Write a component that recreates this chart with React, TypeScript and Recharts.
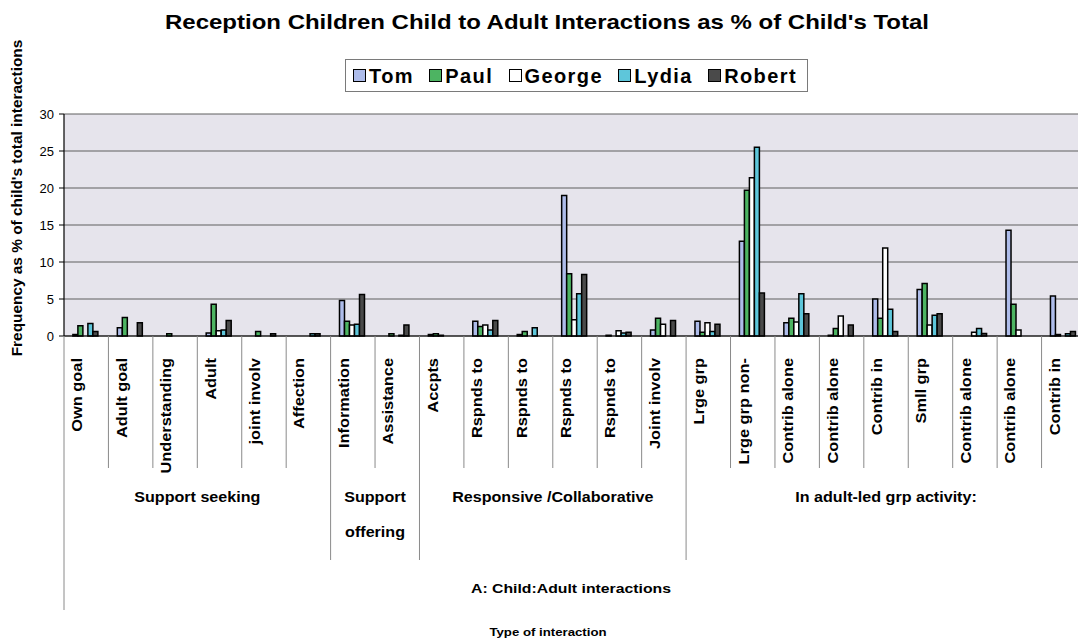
import React from 'react';
import { BarChart, Bar, XAxis, YAxis, CartesianGrid } from 'recharts';

// Interaction types, in axis order
const categories = [
  'Own goal', 'Adult goal', 'Understanding', 'Adult', 'joint involv', 'Affection',
  'Information', 'Assistance',
  'Accpts', 'Rspnds to', 'Rspnds to', 'Rspnds to', 'Rspnds to', 'Joint involv',
  'Lrge grp', 'Lrge grp non-', 'Contrib alone', 'Contrib alone', 'Contrib in', 'Smll grp',
  'Contrib alone', 'Contrib alone', 'Contrib in',
];

// Higher-level grouping of the categories above
const groupNames = ['Support seeking', 'Support\noffering', 'Responsive /Collaborative', 'In adult-led grp activity:'];
const groupSizes = [6, 2, 6, 9];

const seriesNames = ['Tom', 'Paul', 'George', 'Lydia', 'Robert'];
const seriesColors = ['#AEBCEA', '#4DB462', '#FFFFFF', '#5EC6DA', '#4A4A4A'];

// % of each child's total interactions
const tom = [0.2, 1.1, 0, 0.4, 0, 0, 4.8, 0, 0.2, 2.0, 0.2, 19.0, 0.1, 0.8, 2.0, 12.8, 1.8, 0.1, 5.0, 6.3, 0, 14.3, 5.4];
const paul = [1.4, 2.5, 0.3, 4.3, 0.6, 0, 2.0, 0.3, 0.3, 1.3, 0.6, 8.4, 0, 2.4, 0.5, 19.7, 2.4, 1.0, 2.4, 7.1, 0, 4.3, 0.2];
const george = [0, 0, 0, 0.7, 0, 0, 1.5, 0, 0.1, 1.5, 0, 2.2, 0.7, 1.6, 1.8, 21.4, 1.9, 2.7, 11.9, 1.5, 0.5, 0.8, 0];
const lydia = [1.7, 0, 0, 0.8, 0, 0.3, 1.6, 0.1, 0, 0.8, 1.1, 5.7, 0.4, 0, 0.6, 25.5, 5.7, 0, 3.6, 2.8, 1.0, 0, 0.3];
const robert = [0.6, 1.8, 0, 2.1, 0.3, 0.3, 5.6, 1.5, 0, 2.1, 0, 8.3, 0.5, 2.1, 1.6, 5.8, 3.0, 1.5, 0.6, 3.0, 0.35, 0, 0.6];

const yTicks = [0, 5, 10, 15, 20, 25, 30];

const seriesValues = [tom, paul, george, lydia, robert];

const data = categories.map((_, i) => {
  const row: Record<string, number> = { id: i };
  seriesNames.forEach((name, s) => {
    row[name] = seriesValues[s][i];
  });
  return row;
});

const FONT = "'Liberation Sans', Arial, Helvetica, sans-serif";
const CHART_W = 1086;
const CHART_H = 641;
const Y_AXIS_W = 64;
const PLOT_TOP = 114;
const X_AXIS_H = 305;
const BAND = (CHART_W - Y_AXIS_W) / categories.length;

const groupStarts = groupSizes.map((_, g) => groupSizes.slice(0, g).reduce((a, b) => a + b, 0));

function CategoryTick(props: any) {
  const { x, y, payload } = props;
  const i = Number(payload.value);
  const left = x - BAND / 2;
  const g = groupStarts.indexOf(i);
  const sepLen = i === 0 ? 274 : g >= 0 ? 224 : 132;
  const lx = x - 4;
  const ly = y + 22;
  const groupLines = g >= 0 ? groupNames[g].split('\n') : [];
  const gx = left + (g >= 0 ? groupSizes[g] * BAND / 2 : 0);
  return (
    <g>
      <line x1={left} y1={y} x2={left} y2={y + sepLen} stroke="#8a8a8a" strokeWidth={1} />
      <text
        x={0}
        y={0}
        transform={`translate(${lx},${ly}) rotate(-90) scale(1.13,1)`}
        textAnchor="end"
        fontSize={14.5}
        fontWeight="bold"
        fontFamily={FONT}
        fill="#000"
      >
        {categories[i]}
      </text>
      {groupLines.map((line, k) => (
        <text
          key={k}
          x={0}
          y={0}
          transform={`translate(${gx},${y + 166 + k * 35}) scale(1.15,1)`}
          textAnchor="middle"
          fontSize={14}
          fontWeight="bold"
          fontFamily={FONT}
          fill="#000"
        >
          {line}
        </text>
      ))}
    </g>
  );
}

function LegendBox() {
  return (
    <div
      style={{
        position: 'absolute',
        left: 345,
        top: 59,
        width: 463,
        height: 33,
        boxSizing: 'border-box',
        border: '1px solid #7a7a7a',
        background: '#fff',
        display: 'flex',
        alignItems: 'center',
        justifyContent: 'space-between',
        padding: '0 10px 0 7px',
        fontFamily: FONT,
        fontWeight: 'bold',
        fontSize: 20,
        letterSpacing: 1.4,
        color: '#000',
      }}
    >
      {seriesNames.map((name, s) => (
        <div key={name} style={{ display: 'flex', alignItems: 'center' }}>
          <span
            style={{
              display: 'inline-block',
              width: 11,
              height: 11,
              border: '1px solid #000',
              background: seriesColors[s],
              marginRight: 3,
            }}
          />
          <span style={{ lineHeight: '20px' }}>{name}</span>
        </div>
      ))}
    </div>
  );
}

export default function App() {
  return (
    <div
      style={{
        position: 'absolute',
        left: 0,
        top: 0,
        width: 1078,
        height: 641,
        overflow: 'hidden',
        background: '#fff',
        fontFamily: FONT,
      }}
    >
      <BarChart
        width={CHART_W}
        height={CHART_H}
        data={data}
        margin={{ top: PLOT_TOP, right: 0, bottom: 0, left: 0 }}
        barCategoryGap="20%"
        barGap={0}
      >
        <CartesianGrid vertical={false} fill="#E6E4EC" stroke="#5e5e5e" strokeWidth={1} />
        <XAxis
          dataKey="id"
          type="category"
          height={X_AXIS_H}
          interval={0}
          tick={<CategoryTick />}
          tickLine={false}
          tickSize={0}
          tickMargin={0}
          axisLine={{ stroke: '#000', strokeWidth: 1.2 }}
        />
        <YAxis
          width={Y_AXIS_W}
          domain={[0, 30]}
          ticks={yTicks}
          interval={0}
          tick={{ fontSize: 13, fill: '#000', fontFamily: FONT }}
          tickLine={{ stroke: '#000' }}
          axisLine={{ stroke: '#000', strokeWidth: 1.2 }}
          tickSize={5}
          tickMargin={5}
        />
        {seriesNames.map((name, s) => (
          <Bar
            key={name}
            dataKey={name}
            fill={seriesColors[s]}
            stroke="#000"
            strokeWidth={1.5}
            isAnimationActive={false}
          />
        ))}
      </BarChart>

      <svg
        width={1078}
        height={641}
        style={{ position: 'absolute', left: 0, top: 0, pointerEvents: 'none' }}
      >
        <text
          transform="translate(547,29) scale(1.2,1)"
          textAnchor="middle"
          fontSize={20}
          fontWeight="bold"
          fontFamily={FONT}
          fill="#000"
        >
          Reception Children Child to Adult Interactions as % of Child's Total
        </text>
        <text
          transform="translate(22,198) rotate(-90) scale(1.1,1)"
          textAnchor="middle"
          fontSize={14}
          fontWeight="bold"
          fontFamily={FONT}
          fill="#000"
        >
          Frequency as % of child's total interactions
        </text>
        <text
          transform="translate(571,593) scale(1.17,1)"
          textAnchor="middle"
          fontSize={13.5}
          fontWeight="bold"
          fontFamily={FONT}
          fill="#000"
        >
          A: Child:Adult interactions
        </text>
        <text
          transform="translate(548,636) scale(1.15,1)"
          textAnchor="middle"
          fontSize={11.5}
          fontWeight="bold"
          fontFamily={FONT}
          fill="#000"
        >
          Type of interaction
        </text>
      </svg>

      <LegendBox />
    </div>
  );
}
